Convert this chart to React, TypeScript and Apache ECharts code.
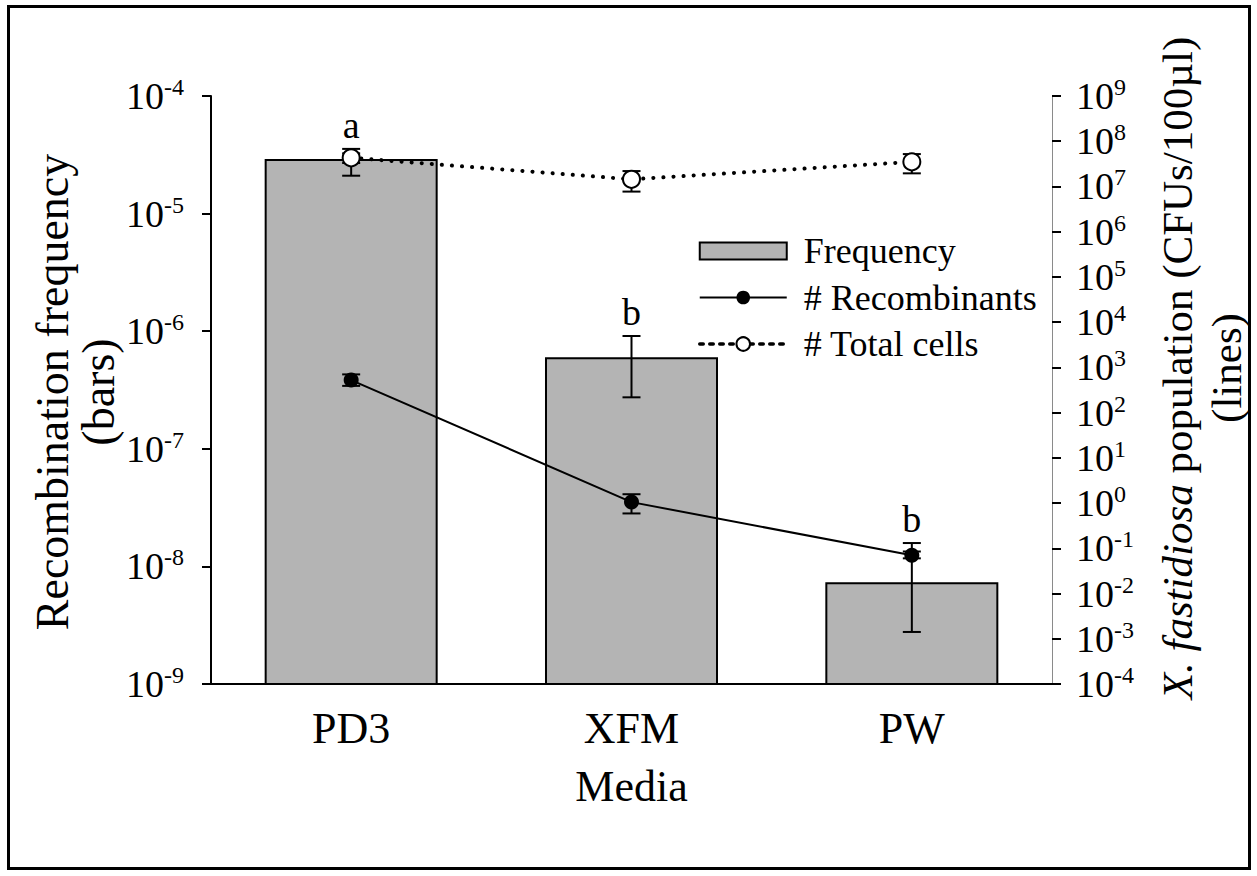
import { useEffect, useRef } from 'react';
import * as echarts from 'echarts';

// Media tested
const categories = ['PD3', 'XFM', 'PW'];

// Recombination frequency (left axis, bars) with error limits
const frequency = [2.86e-5, 5.9e-7, 7.2e-9];
const frequencyLow = [2.1e-5, 2.74e-7, 2.77e-9];
const frequencyHigh = [3.55e-5, 9.1e-7, 1.58e-8];
const groupLetters = ['a', 'b', 'b'];

// Population counts (right axis, lines) with error limits
const recombinants = [525, 1.05, 0.07];
const recombinantsLow = [390, 0.59, 0.06];
const recombinantsHigh = [700, 1.57, 0.085];
const totalCells = [4.3e7, 1.44e7, 3.5e7];
const totalCellsLow = [3.3e7, 7.7e6, 1.95e7];
const totalCellsHigh = [5.4e7, 2.19e7, 5.2e7];

// Axis ranges (powers of ten)
const frequencyRange = [1e-9, 1e-4];
const populationRange = [1e-4, 1e9];

const FONT = '"Liberation Serif", "Times New Roman", serif';

const powerLabel = (v: number) => {
  const e = Math.round(Math.log10(v));
  return `{b|10}{s|${e}}`;
};

const labelRich = {
  b: { fontSize: 38, fontFamily: FONT, color: '#000', lineHeight: 42 },
  s: { fontSize: 24, fontFamily: FONT, color: '#000', verticalAlign: 'top', lineHeight: 24 },
};

const errorBarRender = (params: any, api: any) => {
  const x = api.value(0);
  const lo = api.coord([x, api.value(1)]);
  const hi = api.coord([x, api.value(2)]);
  const half = 9;
  const style = { stroke: '#000', lineWidth: 2 };
  return {
    type: 'group',
    children: [
      { type: 'line', shape: { x1: lo[0], y1: lo[1], x2: hi[0], y2: hi[1] }, style },
      { type: 'line', shape: { x1: lo[0] - half, y1: lo[1], x2: lo[0] + half, y2: lo[1] }, style },
      { type: 'line', shape: { x1: hi[0] - half, y1: hi[1], x2: hi[0] + half, y2: hi[1] }, style },
    ],
  };
};

export default function App() {
  const ref = useRef<HTMLDivElement>(null);

  useEffect(() => {
    if (!ref.current) return;
    const chart = echarts.init(ref.current, null, { renderer: 'svg' });

    const option: any = {
      animation: false,
      backgroundColor: '#fff',
      grid: { left: 211, right: 205, top: 96, bottom: 192, containLabel: false },
      legend: {
        orient: 'vertical',
        left: 693,
        top: 228,
        itemWidth: 87,
        itemHeight: 17,
        itemGap: 10.5,
        selectedMode: false,
        textStyle: { fontSize: 36, fontFamily: FONT, color: '#000', lineHeight: 36, padding: [0, 0, 0, 12] },
        data: [
          { name: 'Frequency', icon: 'rect', itemStyle: { color: '#b4b4b4', borderColor: '#000', borderWidth: 2 } },
          { name: '# Recombinants' },
          {
            name: '# Total cells',
            lineStyle: { color: '#000', width: 3.5, type: [3.5, 6.5] },
          },
        ],
      },
      xAxis: {
        type: 'category',
        data: categories,
        boundaryGap: true,
        axisLine: { lineStyle: { color: '#000', width: 2 } },
        axisTick: { alignWithLabel: true, length: 9, lineStyle: { color: '#000', width: 2 } },
        axisLabel: { fontSize: 44, fontFamily: FONT, color: '#000', margin: 22 },
        name: 'Media',
        nameLocation: 'middle',
        nameGap: 80,
        nameTextStyle: { fontSize: 44, fontFamily: FONT, color: '#000', verticalAlign: 'top' },
      },
      yAxis: [
        {
          type: 'log',
          logBase: 10,
          min: frequencyRange[0],
          max: frequencyRange[1],
          interval: 1,
          position: 'left',
          axisLine: { show: true, lineStyle: { color: '#000', width: 2 } },
          axisTick: { show: true, length: 9, lineStyle: { color: '#000', width: 2 } },
          axisLabel: { formatter: powerLabel, rich: labelRich, margin: 27 },
          splitLine: { show: false },
        },
        {
          type: 'log',
          logBase: 10,
          min: populationRange[0],
          max: populationRange[1],
          interval: 1,
          position: 'right',
          axisLine: { show: true, lineStyle: { color: '#8a8a8a', width: 1 } },
          axisTick: { show: true, length: 9, lineStyle: { color: '#000', width: 2 } },
          axisLabel: { formatter: powerLabel, rich: labelRich, margin: 24 },
          splitLine: { show: false },
        },
      ],
      series: [
        {
          type: 'custom',
          name: 'Frequency',
          xAxisIndex: 0,
          yAxisIndex: 0,
          z: 1,
          data: categories.map((_, i) => [i, frequency[i]]),
          encode: { x: 0, y: 1 },
          itemStyle: { color: '#b4b4b4', borderColor: '#000', borderWidth: 2 },
          renderItem: (params: any, api: any) => {
            const x = api.value(0);
            const v = api.value(1);
            const top = api.coord([x, v]);
            const base = api.coord([x, frequencyRange[0]]);
            const band = api.coord([1, v])[0] - api.coord([0, v])[0];
            const w = band * 0.61;
            return {
              type: 'rect',
              shape: { x: top[0] - w / 2, y: top[1], width: w, height: base[1] - top[1] },
              style: { fill: '#b4b4b4', stroke: '#000', lineWidth: 2 },
            };
          },
        },
        {
          type: 'custom',
          name: 'frequency-error',
          xAxisIndex: 0,
          yAxisIndex: 0,
          z: 2,
          data: categories.map((_, i) => [i, frequencyLow[i], frequencyHigh[i]]),
          encode: { x: 0, y: [1, 2] },
          renderItem: errorBarRender,
        },
        {
          type: 'custom',
          name: 'recombinants-error',
          xAxisIndex: 0,
          yAxisIndex: 1,
          z: 3,
          data: categories.map((_, i) => [i, recombinantsLow[i], recombinantsHigh[i]]),
          encode: { x: 0, y: [1, 2] },
          renderItem: errorBarRender,
        },
        {
          type: 'custom',
          name: 'total-error',
          xAxisIndex: 0,
          yAxisIndex: 1,
          z: 3,
          data: categories.map((_, i) => [i, totalCellsLow[i], totalCellsHigh[i]]),
          encode: { x: 0, y: [1, 2] },
          renderItem: errorBarRender,
        },
        {
          type: 'line',
          name: '# Recombinants',
          yAxisIndex: 1,
          z: 4,
          data: recombinants,
          symbol: 'circle',
          symbolSize: 15,
          itemStyle: { color: '#000' },
          lineStyle: { color: '#000', width: 2 },
        },
        {
          type: 'line',
          name: '# Total cells',
          yAxisIndex: 1,
          z: 4,
          data: totalCells,
          symbol: 'circle',
          symbolSize: 17,
          itemStyle: { color: '#fff', borderColor: '#000', borderWidth: 2 },
          lineStyle: { color: '#000', width: 4, type: [0.1, 10], cap: 'round' },
        },
        {
          type: 'custom',
          name: 'letters',
          xAxisIndex: 0,
          yAxisIndex: 0,
          z: 5,
          data: categories.map((_, i) => [i, frequencyHigh[i]]),
          encode: { x: 0, y: 1 },
          renderItem: (params: any, api: any) => {
            const p = api.coord([api.value(0), api.value(1)]);
            return {
              type: 'text',
              x: p[0],
              y: p[1] - 5,
              style: {
                text: groupLetters[params.dataIndex],
                fontSize: 38,
                fontFamily: FONT,
                fill: '#000',
                align: 'center',
                verticalAlign: 'bottom',
              },
            };
          },
        },
      ],
      graphic: [
        {
          type: 'rect',
          shape: { x: 8.5, y: 6.5, width: 1241, height: 862 },
          style: { fill: 'none', stroke: '#000', lineWidth: 3 },
          silent: true,
        },
        {
          type: 'text',
          x: 52,
          y: 392,
          rotation: Math.PI / 2,
          style: {
            text: 'Recombination frequency',
            fontSize: 46,
            fontFamily: FONT,
            fill: '#000',
            align: 'center',
            verticalAlign: 'middle',
          },
        },
        {
          type: 'text',
          x: 98,
          y: 392,
          rotation: Math.PI / 2,
          style: {
            text: '(bars)',
            fontSize: 46,
            fontFamily: FONT,
            fill: '#000',
            align: 'center',
            verticalAlign: 'middle',
          },
        },
        {
          type: 'text',
          x: 1177,
          y: 368,
          rotation: Math.PI / 2,
          style: {
            text: '{i|X. fastidiosa} population (CFUs/100µl)',
            fontSize: 43,
            fontFamily: FONT,
            fill: '#000',
            align: 'center',
            verticalAlign: 'middle',
            rich: {
              i: { fontSize: 43, fontFamily: FONT, fontStyle: 'italic', fill: '#000' },
            },
          },
        },
        {
          type: 'text',
          x: 1226,
          y: 368,
          rotation: Math.PI / 2,
          style: {
            text: '(lines)',
            fontSize: 43,
            fontFamily: FONT,
            fill: '#000',
            align: 'center',
            verticalAlign: 'middle',
          },
        },
      ],
    };

    chart.setOption(option);
    return () => chart.dispose();
  }, []);

  return (
    <div
      ref={ref}
      style={{ position: 'fixed', left: 0, top: 0, width: 1257, height: 876, background: '#fff' }}
    />
  );
}
